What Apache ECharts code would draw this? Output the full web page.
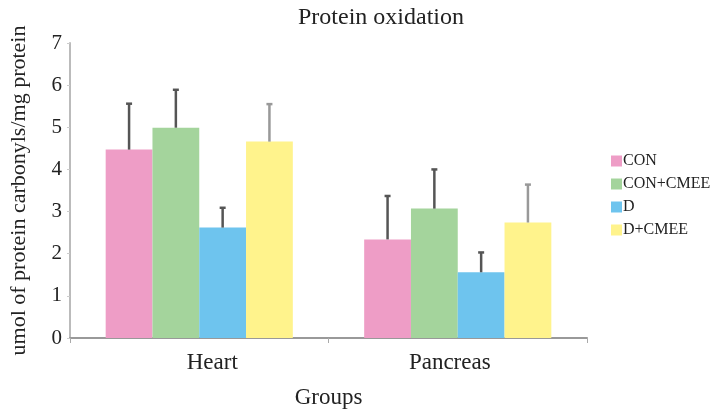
<!DOCTYPE html>
<html>
<head>
<meta charset="utf-8">
<script src="https://cdn.jsdelivr.net/npm/echarts@6/dist/echarts.min.js"></script>
<style>html,body{margin:0;padding:0;background:#fff}#c{width:728px;height:414px}</style>
</head>
<body>
<div id="c"></div>
<script>
const categories = ['Heart', 'Pancreas'];
const seriesNames = ['CON', 'CON+CMEE', 'D', 'D+CMEE'];
const conValues = [4.47, 2.34];
const conCmeeValues = [4.99, 3.07];
const dValues = [2.62, 1.56];
const dCmeeValues = [4.66, 2.74];
const conErr = [1.09, 1.03];
const conCmeeErr = [0.90, 0.93];
const dErr = [0.47, 0.47];
const dCmeeErr = [0.89, 0.90];
const yTicks = [0, 1, 2, 3, 4, 5, 6, 7];

const values = [conValues, conCmeeValues, dValues, dCmeeValues];
const errs = [conErr, conCmeeErr, dErr, dCmeeErr];
const colors = ['#EE9DC6', '#A4D49C', '#6EC4EE', '#FFF38C'];
const errColors = ['#555', '#555', '#555', '#999'];
const catGap = 0.276;
const font = '"Liberation Serif", "Times New Roman", serif';

const chart = echarts.init(document.getElementById('c'));
const series = [];
seriesNames.forEach((n, i) => {
  series.push({
    name: n, type: 'bar', data: values[i], barGap: '0%', barCategoryGap: (catGap * 100) + '%',
    itemStyle: { color: colors[i] }, z: 2
  });
});
seriesNames.forEach((n, i) => {
  series.push({
    type: 'custom', z: 3, silent: true,
    data: categories.map((c, k) => [k, values[i][k], values[i][k] + errs[i][k]]),
    renderItem: function (params, api) {
      const k = api.value(0);
      const base = api.coord([k, api.value(1)]);
      const top = api.coord([k, api.value(2)]);
      const bandW = api.size([1, 0])[0];
      const bw = bandW * (1 - catGap) / 4;
      const x = base[0] + (i - 1.5) * bw;
      const st = { stroke: errColors[i], lineWidth: 2.5 };
      return { type: 'group', children: [
        { type: 'line', shape: { x1: x, y1: base[1], x2: x, y2: top[1] }, style: st },
        { type: 'line', shape: { x1: x - 3, y1: top[1], x2: x + 3, y2: top[1] }, style: st }
      ] };
    }
  });
});

chart.setOption({
  animation: false,
  backgroundColor: '#fff',
  textStyle: { fontFamily: font },
  title: { text: 'Protein oxidation', left: 376, top: 1, textAlign: 'center',
    textStyle: { fontFamily: font, fontSize: 24, fontWeight: 'normal', color: '#222' } },
  legend: {
    data: seriesNames, orient: 'vertical', left: 606, top: 148, itemWidth: 11, itemHeight: 11,
    itemGap: 7, icon: 'rect', textStyle: { fontFamily: font, fontSize: 16, color: '#222', padding: [0, 0, 0, -4] }
  },
  grid: { left: 65, right: 141, top: 43, bottom: 73 },
  xAxis: {
    type: 'category', data: categories, name: 'Groups', nameLocation: 'middle', nameGap: 48,
    nameTextStyle: { fontFamily: font, fontSize: 23, color: '#222' },
    axisLine: { lineStyle: { color: '#999', width: 2 } },
    axisTick: { show: true, length: 5, lineStyle: { color: '#aaa' } },
    axisLabel: { fontFamily: font, fontSize: 23, color: '#222', margin: 13,
      formatter: (v, idx) => idx === 0 ? '{a|' + v + '}' : '{b|' + v + '}',
      rich: {
        a: { fontFamily: font, fontSize: 23, color: '#222', padding: [0, 0, 0, 26] },
        b: { fontFamily: font, fontSize: 23, color: '#222', padding: [0, 16, 0, 0] }
      }
    }
  },
  yAxis: {
    type: 'value', min: 0, max: 7, interval: 1,
    name: 'umol of protein carbonyls/mg protein', nameLocation: 'middle', nameGap: 40,
    nameTextStyle: { fontFamily: font, fontSize: 22, color: '#222' },
    axisLine: { show: true, lineStyle: { color: '#bbb', width: 2 } },
    axisTick: { show: true, length: 3, lineStyle: { color: '#ccc' } },
    splitLine: { show: false },
    axisLabel: { fontFamily: font, fontSize: 21, color: '#222', margin: 8,
      formatter: v => yTicks.includes(v) ? String(v) : '' }
  },
  series: series
});
</script>
</body>
</html>
